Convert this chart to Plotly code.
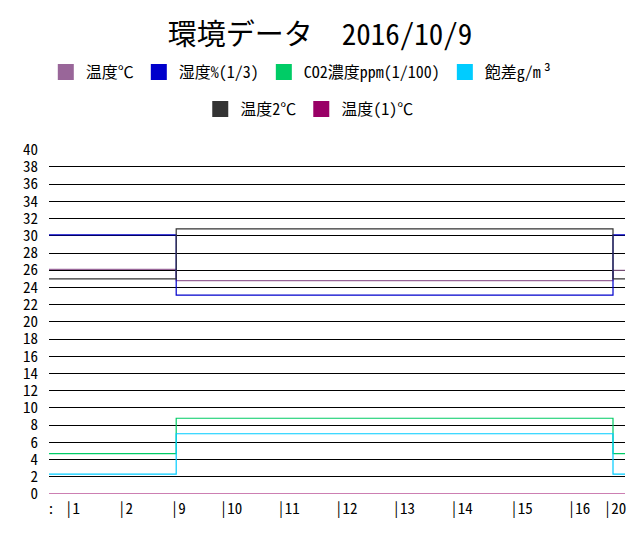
import plotly.graph_objects as go

# ---- data ----
sample_count = 240
tick_index = [0, 9, 31, 53, 75, 99, 123, 147, 171, 196, 220, 235]
tick_labels = [":", "|1", "|2", "|9", "|10", "|11", "|12", "|13", "|14", "|15", "|16", "|20"]

# sample index where each value segment begins
seg_start = [0, 53, 235]

temp_c = [26.1, 24.8, 26.0]        # 温度℃
humidity = [30.1, 23.1, 30.1]      # 湿度%(1/3)
co2 = [4.7, 8.8, 4.7]              # CO2濃度ppm(1/100)
hd = [2.3, 7.0, 2.3]               # 飽差g/m³
temp2 = [25.0, 30.8, 25.0]         # 温度2℃
temp1 = [0.0, 0.0, 0.0]            # 温度(1)℃

series = [
    ("温度℃", temp_c, "#996699", "legend"),
    ("湿度%(1/3)", humidity, "#0000cc", "legend"),
    ("CO2濃度ppm(1/100)", co2, "#00cc66", "legend"),
    ("飽差g/m\u2009³", hd, "#00ccff", "legend"),
    ("温度2℃", temp2, "#333333", "legend2"),
    ("温度(1)℃", temp1, "#990066", "legend2"),
]

FONT = "Noto Sans Mono CJK JP, Noto Sans CJK JP, DejaVu Sans Mono, monospace"

fig = go.Figure()
xs = seg_start + [sample_count]
for name, vals, color, lg in series:
    fig.add_trace(go.Scatter(
        x=xs, y=vals + [vals[-1]], mode="lines", line=dict(color=color, width=1.2, shape="hv"),
        showlegend=False, hoverinfo="skip"))
for name, vals, color, lg in series:
    fig.add_trace(go.Scatter(
        x=[None], y=[None], mode="markers", name=name, legend=lg,
        marker=dict(symbol="square", size=16, color=color)))

fig.update_layout(
    width=640, height=540,
    paper_bgcolor="white", plot_bgcolor="white",
    margin=dict(l=49, r=15, t=146, b=46),
    font=dict(family=FONT, size=15, color="#000000"),
    title=dict(text="環境データ　2016/10/9", x=0.5, xanchor="center", xref="container",
               y=1 - 35 / 540, yanchor="middle", font=dict(size=29, family=FONT)),
    legend=dict(orientation="h", x=0.47, xanchor="center", xref="container",
                y=1 - 72 / 540, yanchor="middle", yref="container",
                font=dict(size=16, family=FONT), itemclick=False),
    legend2=dict(orientation="h", x=0.484, xanchor="center", xref="container",
                 y=1 - 109 / 540, yanchor="middle", yref="container",
                 font=dict(size=16, family=FONT), itemclick=False),
    showlegend=True,
)
fig.update_xaxes(range=[0, sample_count], tickmode="array", tickvals=tick_index, ticktext=tick_labels,
                 showgrid=False, zeroline=False, showline=False, ticks="", ticklabelshift=2,
                 ticklabelstandoff=4, tickfont=dict(size=15))
fig.update_yaxes(range=[0, 40], dtick=2, tick0=0, showgrid=True, gridcolor="#000000", gridwidth=1,
                 zeroline=False, showline=False, ticks="", ticklabelstandoff=10, tickfont=dict(size=15))

fig.write_html("out.html", config={"displayModeBar": False},
               post_script="document.body.style.margin='0';document.body.style.padding='0';")
